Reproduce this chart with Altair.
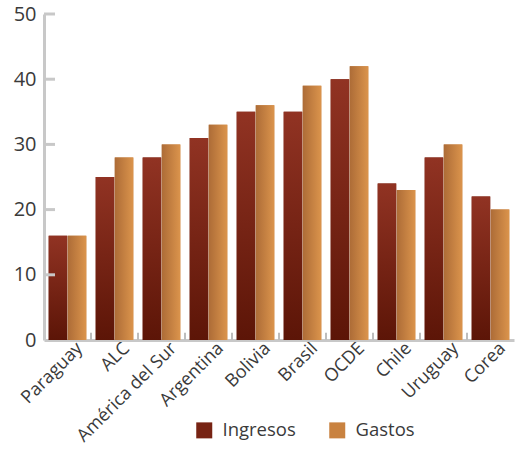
import altair as alt
import pandas as pd

paises = ["Paraguay", "ALC", "América del Sur", "Argentina", "Bolivia",
          "Brasil", "OCDE", "Chile", "Uruguay", "Corea"]
ingresos = [16, 25, 28, 31, 35, 35, 40, 24, 28, 22]
gastos = [16, 28, 30, 33, 36, 39, 42, 23, 30, 20]
series = ["Ingresos", "Gastos"]
y_ticks = [10, 20, 30, 40, 50]

rows = []
for p, a, b in zip(paises, ingresos, gastos):
    rows.append({"pais": p, "serie": "Ingresos", "valor": a})
    rows.append({"pais": p, "serie": "Gastos", "valor": b})
df = pd.DataFrame(rows)
df_ticks = pd.DataFrame({"v": y_ticks})
df_cat = pd.DataFrame({"pais": paises[1:]})

FONT = "Open Sans"
GRAY = "#c8c8c8"
TXT = "#3a3a3a"

x_enc = alt.X("pais:N", sort=paises, title=None,
              scale=alt.Scale(paddingInner=0.2, paddingOuter=0.1),
              axis=alt.Axis(labelAngle=-45, labelFontSize=18, labelColor=TXT,
                            labelFont=FONT, ticks=False, domainColor=GRAY,
                            domainWidth=3, labelPadding=-1, labelOffset=6,
                            labelLimit=250))
y_enc = alt.Y("valor:Q", title=None,
              scale=alt.Scale(domain=[0, 50], nice=False),
              axis=alt.Axis(values=[0, 10, 20, 30, 40, 50], ticks=False, grid=False,
                            labelFontSize=20, labelColor=TXT, labelFont=FONT,
                            domainColor=GRAY, domainWidth=3, labelPadding=8))
xo_enc = alt.XOffset("serie:N", sort=series,
                     scale=alt.Scale(domain=series, paddingInner=0.03))

base = alt.Chart(df)

shadow = base.transform_filter(alt.datum.serie == "Gastos").mark_bar(
    xOffset=7,
    color=alt.Gradient(gradient="linear",
                       stops=[alt.GradientStop(color="#d9dde1", offset=0),
                              alt.GradientStop(color="#ffffff", offset=1)],
                       x1=0, x2=1, y1=0, y2=0)
).encode(x=x_enc, y=y_enc, xOffset=xo_enc)

flat = base.mark_bar().encode(
    x=x_enc, y=y_enc, xOffset=xo_enc,
    color=alt.Color("serie:N", sort=series,
                    scale=alt.Scale(domain=series, range=["#772313", "#c98240"]),
                    legend=alt.Legend(title=None, orient="none", direction="horizontal",
                                      legendX=151, legendY=407, symbolType="square",
                                      symbolSize=256, labelFontSize=18.5, labelFont=FONT,
                                      labelColor=TXT, labelOffset=9,
                                      columnPadding=32, symbolStrokeWidth=0))
)

ing = base.transform_filter(alt.datum.serie == "Ingresos").mark_bar(
    color=alt.Gradient(gradient="linear",
                       stops=[alt.GradientStop(color="#913323", offset=0),
                              alt.GradientStop(color="#5c1507", offset=1)],
                       x1=0, x2=0, y1=0, y2=1)
).encode(x=x_enc, y=y_enc, xOffset=xo_enc)

gas = base.transform_filter(alt.datum.serie == "Gastos").mark_bar(
    color=alt.Gradient(gradient="linear",
                       stops=[alt.GradientStop(color="#ad6c37", offset=0),
                              alt.GradientStop(color="#db944c", offset=1)],
                       x1=0, x2=1, y1=0, y2=0)
).encode(x=x_enc, y=y_enc, xOffset=xo_enc)

xticks = alt.Chart(df_cat).mark_rule(color="#bdbdbd", strokeWidth=2, xOffset=-4.7).encode(
    x=alt.X("pais:N", sort=paises, bandPosition=0),
    y=alt.datum(0), y2=alt.datum(1.1)
)

yticks = alt.Chart(df_ticks).mark_rule(color=GRAY, strokeWidth=3).encode(
    y=alt.Y("v:Q"), x=alt.value(0), x2=alt.value(11)
)

chart = alt.layer(shadow, flat, ing, gas, xticks, yticks).properties(
    width=470, height=326,
    autosize=alt.AutoSizeParams(type="none"),
    padding={"left": 44, "top": 14, "right": 1, "bottom": 109},
).configure_view(stroke=None).configure_axis(labelFont=FONT)

chart.save("out.html", embed_options={"renderer": "svg", "actions": False})
